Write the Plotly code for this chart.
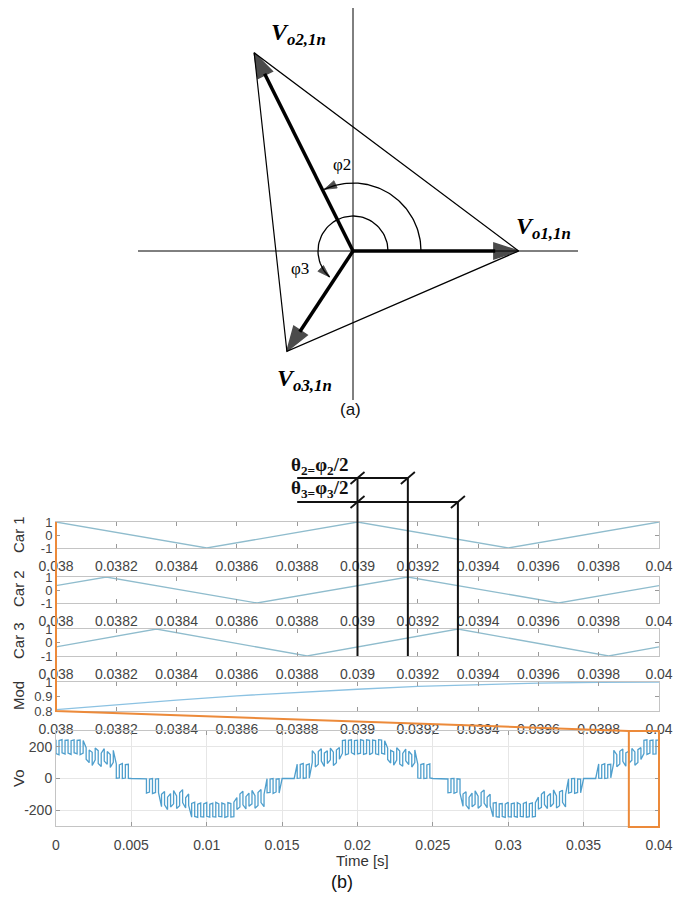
import numpy as np
import plotly.graph_objects as go

# ---------------- data ----------------
# (a) phasor diagram (magnitudes in drawing units, angles in degrees)
phasor_labels = ["V<sub>o1,1n</sub>", "V<sub>o2,1n</sub>", "V<sub>o3,1n</sub>"]
phasor_mag = [165.6, 221.5, 120.1]
phasor_ang = [0.0, 116.5, 236.6]
phi_labels = ["φ2", "φ3"]
phi_arc_radius = [68, 35]
phi_arc_end = [115.0, 228.0]

# (b) carriers (vertices of triangular carriers)
car1_t = [0.038, 0.0385, 0.039, 0.0395, 0.040]
car1_v = [1, -1, 1, -1, 1]
car2_t = [0.038, 0.038167, 0.038667, 0.039167, 0.039667, 0.040]
car2_v = [0.33, 1, -1, 1, -1, 0.33]
car3_t = [0.038, 0.038333, 0.038833, 0.039333, 0.039833, 0.040]
car3_v = [-0.33, 1, -1, 1, -1, -0.33]

# modulation signal
mod_t = [0.038, 0.0382, 0.0384, 0.0386, 0.0388, 0.039, 0.0392, 0.0394, 0.0396, 0.0398, 0.040]
mod_v = [0.81, 0.845, 0.875, 0.905, 0.93, 0.95, 0.97, 0.982, 0.992, 0.998, 1.0]

# phase-shift marks (theta2, theta3 carrier peaks)
theta_t = [0.039, 0.039167, 0.039333]
theta_labels = ["<b>θ<sub>2=</sub>φ<sub>2</sub>/2</b>", "<b>θ<sub>3=</sub>φ<sub>3</sub>/2</b>"]

# output voltage Vo: per switching stroke, upper and lower value
vo_t0, vo_dt = 0.0, 0.0002
vo_hi = [
    244, 240, 245, 241, 243, 239, 244, 241, 243, 240,
    195, 180, 166, 192, 176, 160, 188, 170, 152, 178,
    92, 86, 95, 88, 90, 0, 0, 0, 0, 0,
    -2, -4, 0, -3, -1, -100, -82, -118, -95, -76,
    -110, -90, -70, -122, -98, -158, -150, -162, -155, -160,
    -152, -163, -156, -150, -160, -155, -162, -152, -158, -150,
    -120, -98, -80, -115, -92, -75, -108, -88, -70, -100,
    -1, -3, 0, -4, -2, 0, 0, 0, 0, 0,
    90, 88, 95, 85, 92, 176, 152, 170, 188, 160,
    175, 192, 166, 180, 196, 240, 243, 241, 244, 239,
    242, 245, 240, 244, 241, 243, 240, 245, 242, 239,
    192, 178, 168, 195, 174, 158, 186, 172, 150, 180,
    90, 88, 94, 86, 92, 0, 0, 0, 0, 0,
    -3, -1, 0, -2, -4, -98, -84, -120, -92, -78,
    -112, -88, -72, -118, -100, -155, -152, -160, -158, -162,
    -150, -160, -155, -152, -163, -158, -150, -160, -154, -152,
    -118, -100, -82, -112, -95, -72, -110, -85, -74, -102,
    -2, -1, 0, -3, -4, 0, 0, 0, 0, 0,
    92, 86, 94, 88, 90, 178, 150, 172, 186, 162,
    172, 190, 168, 182, 195, 241, 244, 240, 243, 242,
    242,
]
vo_lo = [
    158, 150, 162, 155, 160, 152, 163, 156, 150, 160,
    122, 100, 82, 118, 95, 76, 110, 90, 70, 102,
    2, 4, 0, 3, 1, 0, 0, 0, 0, 0,
    -92, -86, -95, -88, -90, -178, -166, -196, -180, -160,
    -190, -172, -152, -186, -170, -244, -240, -245, -241, -243,
    -239, -244, -241, -243, -240, -242, -245, -240, -243, -241,
    -196, -180, -166, -192, -176, -160, -188, -170, -152, -178,
    -90, -88, -95, -85, -92, 0, 0, 0, 0, 0,
    1, 3, 0, 4, 2, 102, 72, 90, 110, 76,
    95, 118, 82, 100, 122, 160, 150, 156, 163, 152,
    155, 160, 152, 158, 150, 162, 156, 151, 160, 154,
    120, 98, 84, 116, 92, 78, 112, 88, 72, 100,
    3, 1, 0, 2, 4, 0, 0, 0, 0, 0,
    -90, -88, -94, -86, -92, -176, -168, -194, -178, -162,
    -188, -170, -155, -184, -172, -242, -241, -244, -240, -245,
    -241, -243, -240, -244, -239, -242, -244, -241, -243, -240,
    -194, -182, -164, -190, -178, -158, -186, -172, -150, -180,
    -92, -86, -94, -88, -90, 0, 0, 0, 0, 0,
    2, 1, 0, 3, 4, 100, 74, 92, 108, 78,
    96, 116, 84, 102, 120, 158, 152, 160, 154, 156,
    155,
]

car_ticks = [0.038, 0.0382, 0.0384, 0.0386, 0.0388, 0.039, 0.0392, 0.0394, 0.0396, 0.0398, 0.04]
car_ticktext = ["0.038", "0.0382", "0.0384", "0.0386", "0.0388", "0.039",
                "0.0392", "0.0394", "0.0396", "0.0398", "0.04"]
vo_ticks = [0, 0.005, 0.01, 0.015, 0.02, 0.025, 0.03, 0.035, 0.04]
vo_ticktext = ["0", "0.005", "0.01", "0.015", "0.02", "0.025", "0.03", "0.035", "0.04"]

# ---------------- layout helpers ----------------
W, H = 674, 901


def px(xp):
    return xp / W


def py(yp):
    return 1 - yp / H


X_DOM = [px(56), px(659)]
CAR_RANGE = [0.038, 0.040]
VO_RANGE_X = [0.0, 0.04]
VO_RANGE_Y = [-300, 300]
MOD_RANGE = [0.8, 1.0]
boxes = {  # pixel top/bottom of each panel
    "car1": (522, 548), "car2": (577, 603), "car3": (629, 656),
    "mod": (682, 711), "vo": (731, 826),
}


def ydom(name):
    t, b = boxes[name]
    return [py(b), py(t)]


def map_lin(v, r, d):
    return d[0] + (v - r[0]) / (r[1] - r[0]) * (d[1] - d[0])


CARRIER_COLOR = "#8fbccd"
MOD_COLOR = "#8cc2e2"
VO_COLOR = "#4f9fcd"
ORANGE = "#ec8a3a"
BOX = "#c4c4c4"
SANS = "Liberation Sans, Arial, sans-serif"
SERIF = "Liberation Serif, Times New Roman, serif"

fig = go.Figure()

# ---- carriers ----
for i, (tt, vv) in enumerate([(car1_t, car1_v), (car2_t, car2_v), (car3_t, car3_v)]):
    ax = "" if i == 0 else str(i + 1)
    fig.add_trace(go.Scatter(x=tt, y=vv, mode="lines", xaxis="x" + ax, yaxis="y" + ax,
                             line=dict(color=CARRIER_COLOR, width=1.3), hoverinfo="skip"))

# ---- modulation ----
fig.add_trace(go.Scatter(x=mod_t, y=mod_v, mode="lines", xaxis="x4", yaxis="y4",
                         line=dict(color=MOD_COLOR, width=1.3), hoverinfo="skip"))

# ---- Vo strokes ----
vo_t = [round(vo_t0 + k * vo_dt, 6) for k in range(len(vo_hi))]
xs, ys = [], []
for k, (t, h, l) in enumerate(zip(vo_t, vo_hi, vo_lo)):
    xs += [t, t]
    ys += ([h, l] if k % 2 == 0 else [l, h])
fig.add_trace(go.Scatter(x=xs, y=ys, mode="lines", xaxis="x5", yaxis="y5",
                         line=dict(color=VO_COLOR, width=1.3), hoverinfo="skip"))

# ---- phasor diagram ----
tips = []
for m, a in zip(phasor_mag, phasor_ang):
    r = np.deg2rad(a)
    tips.append((m * np.cos(r), m * np.sin(r)))
# triangle joining tips
tri_x = [tips[0][0], tips[1][0], tips[2][0], tips[0][0]]
tri_y = [tips[0][1], tips[1][1], tips[2][1], tips[0][1]]
fig.add_trace(go.Scatter(x=tri_x, y=tri_y, mode="lines", xaxis="x6", yaxis="y6",
                         line=dict(color="black", width=1.2), hoverinfo="skip"))
for (tx, ty) in tips:
    fig.add_trace(go.Scatter(x=[0, tx], y=[0, ty], mode="lines+markers", xaxis="x6", yaxis="y6",
                             line=dict(color="black", width=3.5),
                             marker=dict(symbol="arrow", size=[0, 26], angleref="previous",
                                         color="black", line=dict(color="black", width=1.5)),
                             hoverinfo="skip"))
# angle arcs
for rad, end in zip(phi_arc_radius, phi_arc_end):
    th = np.deg2rad(np.linspace(0, end, 60))
    sizes = [0] * 59 + [13]
    fig.add_trace(go.Scatter(x=rad * np.cos(th), y=rad * np.sin(th), mode="lines+markers",
                             xaxis="x6", yaxis="y6",
                             line=dict(color="black", width=1.3),
                             marker=dict(symbol="arrow", size=sizes, angleref="previous", color="black",
                                         line=dict(color="black", width=0.8)),
                             hoverinfo="skip"))

# ---------------- axes ----------------
common = dict(showline=True, linecolor=BOX, linewidth=1, mirror="ticks", ticks="inside",
              ticklen=4, tickcolor="#9a9a9a", zeroline=False, showgrid=False, automargin=False,
              tickfont=dict(family=SANS, size=14, color="#444"))
small_y_font = dict(family=SANS, size=13, color="#444")
layout_axes = {}
names = ["car1", "car2", "car3", "mod"]
for i, nm in enumerate(names):
    sx = "" if i == 0 else str(i + 1)
    layout_axes["xaxis" + sx] = dict(common, domain=X_DOM, range=CAR_RANGE, anchor="y" + sx,
                                     tickvals=car_ticks, ticktext=car_ticktext, ticklabelstandoff=5)
    if nm == "mod":
        layout_axes["yaxis" + sx] = dict(common, domain=ydom(nm), range=MOD_RANGE, anchor="x" + sx,
                                         tickvals=[0.8, 0.9, 1.0], ticktext=["0.8", "0.9", "1"],
                                         tickfont=small_y_font)
    else:
        layout_axes["yaxis" + sx] = dict(common, domain=ydom(nm), range=[-1, 1], anchor="x" + sx,
                                         tickvals=[-1, 0, 1], ticktext=["-1", "0", "1"],
                                         tickfont=small_y_font)
layout_axes["xaxis5"] = dict(common, domain=X_DOM, range=VO_RANGE_X, anchor="y5",
                             tickvals=vo_ticks, ticktext=vo_ticktext, showgrid=True,
                             gridcolor="#e6e6e6", ticklabelstandoff=6)
layout_axes["yaxis5"] = dict(common, domain=ydom("vo"), range=VO_RANGE_Y, anchor="x5",
                             tickvals=[-200, 0, 200], ticktext=["-200", "0", "200"],
                             showgrid=True, gridcolor="#e6e6e6")
# phasor panel: 1 unit = 1 px, origin at (353, 251)
ORIGIN = (353, 251)
layout_axes["xaxis6"] = dict(domain=[0, 1], range=[-ORIGIN[0], W - ORIGIN[0]], visible=False,
                             anchor="y6", fixedrange=True, automargin=False)
layout_axes["yaxis6"] = dict(domain=[py(430), 1], range=[-(430 - ORIGIN[1]), ORIGIN[1]],
                             visible=False, anchor="x6", fixedrange=True, automargin=False)

shapes = []
# phasor reference axes
axis_h = [-215, 225]
axis_v = [-149, 243]
shapes.append(dict(type="line", xref="x6", yref="y6", x0=axis_h[0], x1=axis_h[1], y0=0, y1=0,
                   line=dict(color="black", width=1), layer="below"))
shapes.append(dict(type="line", xref="x6", yref="y6", x0=0, x1=0, y0=axis_v[0], y1=axis_v[1],
                   line=dict(color="black", width=1), layer="below"))

# theta bracket lines
bracket_left = 0.0388
bracket_y = [478, 502]
car3_bottom = boxes["car3"][1]
for k, yb in enumerate(bracket_y):
    tend = theta_t[k + 1]
    shapes.append(dict(type="line", xref="x", yref="paper", x0=bracket_left, x1=tend,
                       y0=py(yb), y1=py(yb), line=dict(color="#111", width=2)))
    for tt in (theta_t[0], tend):
        shapes.append(dict(type="line", xref="x", yref="paper", xsizemode="pixel", xanchor=tt,
                           x0=-7, x1=7, ysizemode="pixel", yanchor=py(yb), y0=-6, y1=6,
                           line=dict(color="#111", width=1.8)))
for k, tt in enumerate(theta_t):
    ytop = bracket_y[0] if k < 2 else bracket_y[1]
    shapes.append(dict(type="line", xref="x", yref="paper", x0=tt, x1=tt,
                       y0=py(ytop), y1=py(car3_bottom), line=dict(color="#111", width=2)))

# orange zoom indicator (paper coordinates derived from the axis scales)
x_l_car = map_lin(CAR_RANGE[0], CAR_RANGE, X_DOM)
y_top_car = py(boxes["car1"][0])
y_mod_bot = map_lin(mod_v[0] - 0.01, MOD_RANGE, ydom("mod"))
x_vo_l = map_lin(CAR_RANGE[0], VO_RANGE_X, X_DOM)
x_vo_r = map_lin(CAR_RANGE[1], VO_RANGE_X, X_DOM)
y_vo_t = map_lin(VO_RANGE_Y[1], VO_RANGE_Y, ydom("vo"))
y_vo_b = map_lin(-306, VO_RANGE_Y, ydom("vo"))
shapes.append(dict(type="path", xref="paper", yref="paper",
                   path=f"M{x_l_car},{y_top_car} L{x_l_car},{y_mod_bot} L{x_vo_l},{y_vo_t}",
                   line=dict(color=ORANGE, width=2)))
shapes.append(dict(type="rect", xref="paper", yref="paper", x0=x_vo_l, x1=x_vo_r,
                   y0=y_vo_b, y1=y_vo_t, line=dict(color=ORANGE, width=2)))

# ---------------- annotations ----------------
ann = []


def add_text(text, xp, yp, size, family=SANS, color="#333", angle=0):
    ann.append(dict(text=text, x=px(xp), y=py(yp), xref="paper", yref="paper", showarrow=False,
                    xanchor="center", yanchor="middle", textangle=angle,
                    font=dict(family=family, size=size, color=color)))


label_pos = [(543, 228), (298, 34), (304, 380)]
for lab, (lx, ly) in zip(phasor_labels, label_pos):
    add_text("<b><i>" + lab + "</i></b>", lx, ly, 24, SERIF, "black")
phi_pos = [(342, 164), (300, 268)]
for lab, (lx, ly) in zip(phi_labels, phi_pos):
    add_text(lab, lx, ly, 17, SERIF, "black")
add_text("(a)", 350, 409, 17, SANS, "#111")

theta_pos = [(319, 466), (319, 489)]
for lab, (lx, ly) in zip(theta_labels, theta_pos):
    add_text(lab, lx, ly, 19, SERIF, "#111")

ytitles = [("Car 1", 535), ("Car 2", 589), ("Car 3", 641), ("Mod", 696), ("Vo", 778)]
for t, yy in ytitles:
    add_text(t, 18, yy, 15, SANS, "#333", angle=-90)
add_text("Time [s]", 362, 860, 15, "Liberation Sans Narrow, Arial Narrow, Liberation Sans", "#333")
add_text("(b)", 342, 882, 18, SANS, "#111")

fig.update_layout(
    width=W, height=H, margin=dict(l=0, r=0, t=0, b=0, autoexpand=False),
    paper_bgcolor="white", plot_bgcolor="white", showlegend=False,
    shapes=shapes, annotations=ann, **layout_axes,
)

fig.write_html("out.html", config={"displayModeBar": False},
               post_script="document.body.style.margin='0';document.body.style.overflow='hidden';")
